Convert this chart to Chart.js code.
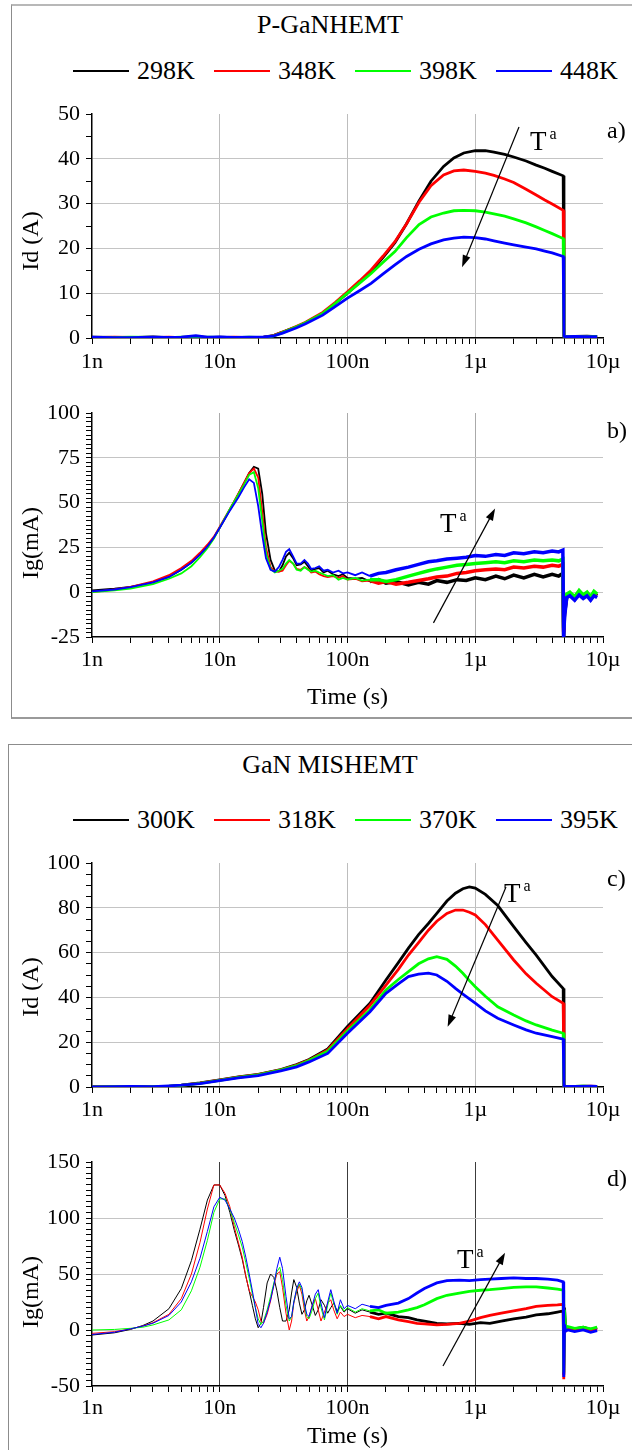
<!DOCTYPE html>
<html>
<head>
<meta charset="utf-8">
<script src="https://cdn.jsdelivr.net/npm/chart.js@4.4.1/dist/chart.umd.min.js"></script>
<style>
  body { margin: 0; width: 632px; height: 1450px; overflow: hidden; background: #fff; position: relative;
         font-family: "Liberation Serif", "Times New Roman", serif; color: #000; }
  .box { position: absolute; box-sizing: border-box; }
  .title { position: absolute; width: 300px; text-align: center; font-size: 26px; line-height: 30px; }
  .legend-item { position: absolute; font-size: 26px; line-height: 30px; white-space: nowrap; height: 30px; }
  .legend-line { position: absolute; left: 0; width: 56px; }
  .legend-text { position: absolute; left: 64px; top: 0; }
  canvas { position: absolute; left: 0; }
</style>
</head>
<body>
<div class="box" style="left:11px; top:4px; width:700px; height:715px; border-top:2px solid #b8b8b8; border-left:1.5px solid #8c8c8c; border-bottom:2px solid #9a9a9a;"></div>
<div class="box" style="left:8px; top:744px; width:700px; height:800px; border-top:1.5px solid #8c8c8c; border-left:1.5px solid #8c8c8c;"></div>

<script>
const FONT = '"Liberation Serif", "Times New Roman", serif';

// ---- series names / colours ----
const tempsTop = ['298K', '348K', '398K', '448K'];
const tempsBottom = ['300K', '318K', '370K', '395K'];
const seriesColors = ['#000000', '#ff0000', '#00ff00', '#0000ff'];

// ---- x axis (time, s) ----
const xDecades = [1e-9, 1e-8, 1e-7, 1e-6, 1e-5];
const xDecadeLabels = ['1n', '10n', '100n', '1µ', '10µ'];

// ---- a) P-GaN HEMT drain current Id (A) ----
const timeA = [1e-9, 1.5e-9, 2e-9, 3e-9, 4e-9, 5e-9, 6.5e-9, 8e-9, 1e-8, 1.3e-8,
  1.7e-8, 2.2e-8, 2.6e-8, 3.1e-8, 4e-8, 4.7e-8, 6.4e-8, 8e-8, 1e-7, 1.25e-7,
  1.53e-7, 1.9e-7, 2.35e-7, 2.9e-7, 3.63e-7, 4.5e-7, 5.65e-7, 6.8e-7, 8.13e-7, 1e-6,
  1.2e-6, 1.4e-6, 1.7e-6, 2e-6, 2.5e-6, 3e-6, 3.5e-6, 4e-6, 4.88e-6, 4.95e-6,
  5.05e-6, 6e-6, 7.5e-6, 9e-6];
const id298 = [0.2, 0.15, 0.1, 0.25, 0.1, 0.15, 0.3, 0.1, 0.2, 0.1,
  0.15, 0.2, 0.5, 1.3, 2.5, 3.4, 5.5, 7.7, 10.0, 12.5,
  14.9, 18.0, 21.3, 25.5, 30.6, 35.0, 38.3, 40.2, 41.3, 41.8,
  41.8, 41.5, 41.0, 40.4, 39.5, 38.6, 37.9, 37.2, 36.2, 0.5,
  0.3, 0.35, 0.4, 0.3];
const id348 = [0.1, 0.2, 0.15, 0.1, 0.2, 0.1, 0.25, 0.15, 0.1, 0.2,
  0.1, 0.15, 0.5, 1.3, 2.6, 3.5, 5.7, 7.9, 10.3, 12.8,
  15.2, 18.3, 21.5, 25.5, 30.3, 34.0, 36.4, 37.3, 37.5, 37.2,
  36.8, 36.3, 35.5, 34.7, 33.2, 31.9, 30.8, 29.9, 28.5, 0.4,
  0.3, 0.3, 0.35, 0.3];
const id398 = [0.1, 0.1, 0.2, 0.15, 0.1, 0.2, 0.1, 0.2, 0.15, 0.1,
  0.2, 0.1, 0.4, 1.2, 2.5, 3.4, 5.5, 7.7, 10.0, 12.3,
  14.4, 16.9, 19.3, 22.4, 25.3, 27.0, 27.9, 28.4, 28.5, 28.4,
  28.1, 27.7, 27.2, 26.6, 25.7, 24.8, 24.0, 23.3, 22.2, 0.4,
  0.3, 0.3, 0.3, 0.35];
const id448 = [0.2, 0.1, 0.1, 0.2, 0.15, 0.2, 0.5, 0.2, 0.25, 0.15,
  0.2, 0.25, 0.4, 1.1, 2.3, 3.2, 5.1, 7.0, 8.9, 10.6,
  12.2, 14.3, 16.3, 18.2, 19.8, 21.0, 21.9, 22.3, 22.5, 22.4,
  22.1, 21.7, 21.2, 20.8, 20.3, 19.9, 19.4, 19.0, 18.2, 0.4,
  0.3, 0.35, 0.3, 0.3];

// ---- b) P-GaN HEMT gate current Ig (mA) ----
const timeB = [1e-9, 1.5e-9, 2e-9, 3e-9, 4e-9, 5e-9, 6e-9, 7e-9, 8e-9, 9e-9,
  1e-8, 1.2e-8, 1.4e-8, 1.55e-8, 1.7e-8, 1.85e-8, 2e-8, 2.15e-8, 2.3e-8, 2.5e-8,
  2.7e-8, 2.9e-8, 3.1e-8, 3.3e-8, 3.5e-8, 3.75e-8, 4e-8, 4.3e-8, 4.6e-8, 4.9e-8,
  5.2e-8, 5.6e-8, 6e-8, 6.5e-8, 7e-8, 7.7e-8, 8.5e-8, 9.2e-8, 1e-7, 1.15e-7,
  1.3e-7, 1.5e-7, 1.75e-7, 2e-7, 2.4e-7, 3e-7, 3.6e-7, 4.3e-7, 5e-7, 6e-7,
  7.2e-7, 8.5e-7, 1e-6, 1.2e-6, 1.45e-6, 1.7e-6, 2e-6, 2.4e-6, 2.9e-6, 3.4e-6,
  4e-6, 4.5e-6, 4.85e-6, 4.92e-6, 5e-6, 5.2e-6, 5.5e-6, 6e-6, 6.5e-6, 7e-6,
  7.5e-6, 8e-6, 8.5e-6, 9e-6];
const ig298 = [1.0, 2.0, 3.0, 5.5, 8.5, 12.5, 16.5, 21, 25.5, 30.5,
  36, 46, 55, 61, 66.5, 70, 69, 55, 33, 18,
  12, 11.5, 15, 20, 22, 19, 15, 15.5, 17, 14.5,
  12, 13, 13.5, 11, 12, 10, 9, 10, 8, 7.5,
  8, 6, 7, 5, 6, 4, 5.5, 4.5, 6.5, 5.5,
  7, 6.5, 8, 7, 9, 7.5, 9.5, 8, 10, 8.5,
  10, 9, 10.5, -25, -12, -3, -1, -4, 0, -3,
  -1, -4, -1, -2];
const ig348 = [0.0, 1.5, 3.0, 6.0, 9.5, 13.5, 17.5, 22, 26.5, 31,
  36.5, 46.5, 55, 61, 66.5, 69, 64, 45, 25, 14,
  11.5, 11.5, 12, 15, 17.5, 16, 13, 12.5, 14, 13,
  11, 11.5, 10, 9, 8.5, 9, 8, 9, 7, 7.5,
  6, 6.5, 5, 6, 4.5, 5.5, 6.5, 7.5, 8.5, 9,
  10.5, 11, 12, 12.5, 13, 12.5, 14, 13.5, 14.5, 14,
  15, 14.5, 15.5, -22, -10, -2, -1, -3.5, 0.5, -2,
  -0.5, -3.5, -1.5, -1.5];
const ig398 = [0.0, 1.0, 2.0, 4.5, 7.5, 10.5, 14.5, 19.5, 24.5, 30,
  36, 46.5, 54.5, 60, 65.5, 67, 58, 40, 22, 13,
  11, 12, 13, 16, 18, 16, 12.5, 12, 14, 12.5,
  11.5, 12, 11, 10, 9, 9.5, 7, 8, 7, 8,
  6.5, 7, 7, 6, 7, 9, 10.5, 12, 13, 14,
  15, 15.5, 16, 16.5, 17, 16.5, 17.5, 17, 18, 17.5,
  18, 17.5, 18.5, -20, -8, -1, 0, -2.5, 1, -1.5,
  0, -2.5, 0.5, -1];
const ig448 = [0.5, 1.5, 2.8, 5.5, 8.5, 12.5, 16.5, 21, 25.5, 30.5,
  36, 45.5, 53, 58.5, 63, 61, 48, 32, 19, 12.5,
  11.5, 14, 18, 22.5, 24, 20, 16, 16, 18, 16,
  13, 13.5, 14.5, 12, 12.5, 11, 12, 10.5, 11, 9.5,
  11, 9, 10.5, 11, 12.5, 14, 15.5, 17, 17.5, 18.5,
  19, 19.5, 20.5, 20, 21, 20.5, 22, 21.5, 22.5, 22,
  23, 22.5, 23.5, -25, -14, -3, -2, -4.5, -1.5, -3.5,
  -2, -4.5, -2, -3];

// ---- c) GaN MIS-HEMT drain current Id (A) ----
const timeC = [1e-9, 1.5e-9, 2e-9, 3e-9, 4e-9, 5e-9, 7e-9, 1e-8, 1.4e-8, 2e-8,
  3e-8, 4e-8, 5e-8, 7e-8, 1e-7, 1.5e-7, 2e-7, 2.5e-7, 3e-7, 3.6e-7,
  4.3e-7, 5e-7, 6e-7, 7e-7, 8e-7, 9e-7, 1e-6, 1.2e-6, 1.5e-6, 2e-6,
  2.5e-6, 3e-6, 4e-6, 4.88e-6, 4.95e-6, 5.1e-6, 6e-6, 7e-6, 8e-6, 9e-6];
const id300 = [0.2, 0.1, 0.2, 0.1, 0.3, 0.8, 1.8, 3.2, 4.5, 5.6,
  7.8, 10, 12.3, 17, 27, 37.4, 47.8, 55.5, 62, 68,
  73, 77.5, 83, 86.5, 88.5, 89.3, 88.8, 86, 81, 71.6,
  64.5, 58.9, 49.3, 44, 0.5, 0.4, 0.3, 0.4, 0.3, 0.3];
const id318 = [0.2, 0.3, 0.1, 0.2, 0.3, 0.7, 1.7, 3.1, 4.4, 5.5,
  7.6, 9.8, 12, 16.5, 26, 36.5, 45.5, 52.5, 58.9, 64.5,
  70, 74, 77.5, 79, 79, 78, 76.8, 72.5, 65.6, 56.7,
  50.5, 46.3, 40.3, 37.4, 0.5, 0.4, 0.3, 0.3, 0.4, 0.3];
const id370 = [0.1, 0.2, 0.1, 0.2, 0.4, 0.7, 1.6, 3.0, 4.3, 5.4,
  7.5, 9.5, 11.8, 16, 25, 34.5, 43.3, 48, 51.5, 55,
  57.2, 58.2, 57, 54, 50.8, 47.5, 44.8, 40.5, 35.8, 32.1,
  29.5, 27.7, 25.4, 24, 0.4, 0.3, 0.3, 0.4, 0.3, 0.3];
const id395 = [0.1, 0.2, 0.3, 0.2, 0.5, 0.8, 1.5, 2.8, 4.1, 5.1,
  7.2, 9, 11.2, 15, 24, 33.6, 41.8, 46, 49.3, 50.4,
  50.8, 50, 47.2, 44, 41.5, 39.3, 37.4, 34, 30.7, 27.7,
  25.5, 24, 22.5, 21.4, 0.5, 0.4, 0.3, 0.3, 0.4, 0.3];

// ---- d) GaN MIS-HEMT gate current Ig (mA) ----
const timeD = [1e-9, 1.5e-9, 2e-9, 2.5e-9, 3e-9, 4e-9, 5e-9, 6e-9, 7e-9, 8e-9,
  9e-9, 1e-8, 1.1e-8, 1.2e-8, 1.3e-8, 1.4e-8, 1.5e-8, 1.6e-8, 1.7e-8, 1.8e-8,
  1.9e-8, 2e-8, 2.1e-8, 2.2e-8, 2.35e-8, 2.5e-8, 2.65e-8, 2.8e-8, 2.95e-8, 3.1e-8,
  3.3e-8, 3.5e-8, 3.65e-8, 3.8e-8, 4e-8, 4.2e-8, 4.4e-8, 4.6e-8, 4.8e-8, 5e-8,
  5.3e-8, 5.6e-8, 5.9e-8, 6.2e-8, 6.6e-8, 7e-8, 7.4e-8, 7.8e-8, 8.3e-8, 8.8e-8,
  9.4e-8, 1e-7, 1.15e-7, 1.3e-7, 1.5e-7, 1.75e-7, 2e-7, 2.5e-7, 3e-7, 3.5e-7,
  4e-7, 5e-7, 6e-7, 7.5e-7, 9e-7, 1.1e-6, 1.3e-6, 1.6e-6, 2e-6, 2.5e-6,
  3e-6, 3.7e-6, 4.4e-6, 4.88e-6, 4.93e-6, 5e-6, 5.1e-6, 5.3e-6, 6e-6, 7e-6,
  8e-6, 9e-6];
const ig300 = [-4.5, -2.5, 0.5, 4, 8, 19, 37, 62, 90, 116,
  129.5, 129.5, 120, 105, 89, 76, 63, 48, 35, 22,
  10, 2, 6, 20, 42, 50, 47, 35, 20, 8,
  8, 18, 33, 45, 38, 24, 14, 18, 26, 31,
  22, 13, 18, 27, 22, 15, 20, 24, 17, 21,
  16, 19, 15, 18, 16, 14, 15, 12, 11, 9,
  8, 6, 5.5, 6, 5, 6.5, 6, 8, 10, 11.5,
  13.5, 14.5, 16, 17, -40, 20, 0, 2, 1, 2.5,
  0.5, 2];
const ig318 = [-3, -1.5, 1, 3.5, 6.5, 14, 28, 50, 78, 108,
  129.5, 129.5, 122, 110, 92, 78, 65, 48, 35, 30,
  25, 18, 8, 6, 14, 26, 40, 50, 52, 38,
  15, 0, 8, 24, 34, 40, 32, 18, 8, 12,
  22, 28, 18, 8, 16, 24, 27, 18, 10, 16,
  12, 14, 11, 13, 12, 10, 12, 9, 7.5, 6,
  5.5, 4.5, 5, 6, 8, 11, 13, 15, 17, 19,
  21, 22, 22.5, 23, -44, 12, -1, 1, 0, 2,
  -0.5, 1];
const ig370 = [0, 0.5, 1.5, 2.5, 4.5, 9, 18, 35, 56, 80,
  105, 117, 117, 108, 96, 85, 74, 60, 46, 32,
  20, 10, 5, 8, 18, 30, 42, 52, 56, 45,
  22, 8, 12, 25, 36, 41, 36, 22, 12, 10,
  18, 28, 33, 20, 9, 22, 33, 24, 14, 22,
  17, 20, 16, 19, 17, 18, 15, 16, 18, 20,
  22.5, 28, 31, 33, 34.5, 35.5, 36, 37, 38, 38.5,
  38.5, 37.5, 36.5, 35.5, -38, 18, 1, 3, 1.5, 2.5,
  1, 2.5];
const ig395 = [-4, -2, 1, 3.5, 6, 13, 25, 43, 64, 88,
  110, 118.5, 116, 108, 100, 90, 79, 65, 50, 35,
  20, 5, 2, 6, 16, 27, 40, 55, 65, 55,
  30, 10, 12, 25, 37, 43, 38, 24, 14, 12,
  22, 32, 36, 24, 11, 25, 36, 26, 15, 27,
  19, 22, 19, 23, 21, 20, 22, 24, 28, 33,
  37, 42, 44, 44.5, 44, 45, 45.5, 46, 46.5, 46,
  46, 45.5, 44.5, 43, -42, 5, -1, 0, -1.5, 0,
  -2, -0.5];

// ---- annotations (data coordinates) ----
const notesA = { tag: 'a)', tagAt: [1.075e-5, 46], tAt: [2.68e-6, 42], arrow: [[2.2e-6, 47.1], [7.88e-7, 15.8]] };
const notesB = { tag: 'b)', tagAt: [1.075e-5, 89.3], tAt: [5.3e-7, 33.5], arrow: [[4.71e-7, -17.1], [1.43e-6, 46.7]] };
const notesC = { tag: 'c)', tagAt: [1.075e-5, 92.4], tAt: [1.68e-6, 82.6], arrow: [[1.74e-6, 89.3], [6.08e-7, 26.9]] };
const notesD = { tag: 'd)', tagAt: [1.075e-5, 133.9], tAt: [7.2e-7, 55.4], arrow: [[5.59e-7, -32.1], [1.71e-6, 69.0]] };

Chart.defaults.font.family = FONT;
Chart.defaults.color = '#000';

// all x ticks: 1..9 per decade, labels only on decades
const xTickVals = [];
for (let d = 0; d < 4; d++) {
  for (let m = 1; m <= 9; m++) xTickVals.push(Number((m * Math.pow(10, d - 9)).toPrecision(3)));
}
xTickVals.push(1e-5);

function decadeIndex(v) {
  return xDecades.findIndex(dv => Math.abs(v / dv - 1) < 1e-6);
}

const notesPlugin = {
  id: 'notes',
  afterDatasetsDraw(chart, args, o) {
    if (!o || !o.tag) return;
    const { ctx } = chart;
    const xs = chart.scales.x, ys = chart.scales.y;
    const px = p => [xs.getPixelForValue(p[0]), ys.getPixelForValue(p[1])];
    ctx.save();
    ctx.fillStyle = '#000';
    ctx.strokeStyle = '#000';
    ctx.textAlign = 'left';

    ctx.font = '24px ' + FONT;
    ctx.textBaseline = 'middle';
    const [tx, ty] = px(o.tagAt);
    ctx.fillText(o.tag, tx, ty);

    ctx.textBaseline = 'alphabetic';
    ctx.font = '27px ' + FONT;
    const [Tx, Ty] = px(o.tAt);
    ctx.fillText('T', Tx, Ty);
    const w = ctx.measureText('T').width;
    ctx.font = '16px ' + FONT;
    ctx.fillText('a', Tx + w + 3, Ty - 11);

    // arrow
    const [x0, y0] = px(o.arrow[0]);
    const [x1, y1] = px(o.arrow[1]);
    const ang = Math.atan2(y1 - y0, x1 - x0);
    const L = 12, H = 4;
    ctx.lineWidth = 1.2;
    ctx.beginPath();
    ctx.moveTo(x0, y0);
    ctx.lineTo(x1 - L * 0.7 * Math.cos(ang), y1 - L * 0.7 * Math.sin(ang));
    ctx.stroke();
    ctx.beginPath();
    ctx.moveTo(x1, y1);
    ctx.lineTo(x1 - L * Math.cos(ang) + H * Math.sin(ang), y1 - L * Math.sin(ang) - H * Math.cos(ang));
    ctx.lineTo(x1 - L * Math.cos(ang) - H * Math.sin(ang), y1 - L * Math.sin(ang) + H * Math.cos(ang));
    ctx.closePath();
    ctx.fill();
    ctx.restore();
  }
};

function xAxis(height, labelPad, vGrid, title, titlePad) {
  return {
    type: 'logarithmic',
    min: 1e-9,
    max: 1e-5,
    afterBuildTicks: s => { s.ticks = xTickVals.map(v => ({ value: v })); },
    afterFit: s => { s.height = height; s.paddingLeft = 0; s.paddingRight = 0; },
    ticks: {
      autoSkip: false, maxRotation: 0, minRotation: 0, padding: labelPad,
      font: { size: 22 },
      callback: v => { const i = decadeIndex(v); return i >= 0 ? xDecadeLabels[i] : ''; }
    },
    grid: {
      color: c => {
        const i = c.tick ? decadeIndex(c.tick.value) : -1;
        return (i > 0 && i < xDecades.length - 1) ? vGrid : 'rgba(0,0,0,0)';
      },
      tickColor: '#000',
      tickLength: 6,
      lineWidth: 1
    },
    border: { color: '#000', width: 1.5 },
    title: title
      ? { display: true, text: title, font: { size: 24 }, padding: { top: 0, bottom: titlePad } }
      : { display: false }
  };
}

function yAxis(min, max, step, major, title) {
  return {
    type: 'linear',
    min: min,
    max: max,
    afterBuildTicks: s => {
      const t = [];
      for (let v = min; v <= max + 1e-6; v += step) t.push({ value: Math.round(v * 100) / 100 });
      s.ticks = t;
    },
    afterFit: s => { s.width = 92; s.paddingTop = 0; s.paddingBottom = 0; },
    ticks: {
      autoSkip: false, padding: 6, font: { size: 22 },
      callback: v => (Math.abs(v % major) < 1e-6 ? String(v) : '')
    },
    grid: {
      color: c => {
        const v = c.tick ? c.tick.value : min;
        return (Math.abs(v % major) < 1e-6 && v > min && v < max) ? '#c4c4c4' : 'rgba(0,0,0,0)';
      },
      tickColor: '#000',
      tickLength: 6,
      lineWidth: 1
    },
    border: { color: '#000', width: 1.5 },
    title: { display: true, text: title, font: { size: 24 }, padding: { top: 17.6, bottom: 0 } }
  };
}

function makeDatasets(times, seriesList, names, width, lateWidth, lateFrom) {
  return seriesList.map((vals, k) => ({
    label: names[k],
    data: times.map((t, j) => ({ x: t, y: vals[j] })),
    borderColor: seriesColors[k],
    borderWidth: width,
    pointRadius: 0,
    tension: 0,
    fill: false,
    order: seriesList.length - k,
    segment: lateWidth ? { borderWidth: c => (c.p0.parsed.x >= lateFrom ? lateWidth : width) } : undefined
  }));
}

function makeChart(top, height, padTop, datasets, xOpts, yOpts, notes) {
  const cv = document.createElement('canvas');
  cv.width = 632;
  cv.height = height;
  cv.style.top = top + 'px';
  cv.style.width = '632px';
  cv.style.height = height + 'px';
  document.body.appendChild(cv);
  return new Chart(cv.getContext('2d'), {
    type: 'line',
    data: { datasets: datasets },
    options: {
      responsive: false,
      animation: false,
      events: [],
      layout: { padding: { top: padTop, right: 29, bottom: 0, left: 0 } },
      plugins: { legend: { display: false }, tooltip: { enabled: false }, notes: notes },
      scales: { x: xOpts, y: yOpts }
    },
    plugins: [notesPlugin]
  });
}

function addHeader(title, names, titleTop, legendTop, lineH) {
  const t = document.createElement('div');
  t.className = 'title';
  t.style.left = '180px';
  t.style.top = titleTop + 'px';
  t.textContent = title;
  document.body.appendChild(t);
  names.forEach((name, i) => {
    const item = document.createElement('div');
    item.className = 'legend-item';
    item.style.left = (73 + i * 141) + 'px';
    item.style.top = legendTop + 'px';
    const line = document.createElement('div');
    line.className = 'legend-line';
    line.style.height = lineH + 'px';
    line.style.top = (15 - lineH / 2) + 'px';
    line.style.background = seriesColors[i];
    const txt = document.createElement('span');
    txt.className = 'legend-text';
    txt.textContent = name;
    item.appendChild(line);
    item.appendChild(txt);
    document.body.appendChild(item);
  });
}

addHeader('P-GaNHEMT', tempsTop, 10, 56, 1.5);
addHeader('GaN MISHEMT', tempsBottom, 750, 805, 2);

makeChart(100, 280, 14,
  makeDatasets(timeA, [id298, id348, id398, id448], tempsTop, 2.8),
  xAxis(42, 5.5, '#bdbdbd'),
  yAxis(0, 50, 5, 10, 'Id (A)     '),
  notesA);

makeChart(380, 338, 33,
  makeDatasets(timeB, [ig298, ig348, ig398, ig448], tempsTop, 1.8, 3.5, 1.5e-7),
  xAxis(81, 3.8, '#aaaaaa', 'Time (s)', 5.6),
  yAxis(-25, 100, 2.5, 25, 'Ig(mA)      '),
  notesB);

makeChart(840, 290, 23,
  makeDatasets(timeC, [id300, id318, id370, id395], tempsBottom, 2.8),
  xAxis(43, 3.8, '#bdbdbd'),
  yAxis(0, 100, 5, 20, 'Id (A)    '),
  notesC);

makeChart(1130, 330, 32,
  makeDatasets(timeD, [ig300, ig318, ig370, ig395], tempsBottom, 1, 2.8, 1.5e-7),
  xAxis(74, 2.8, '#3c3c3c', 'Time (s)', 8.6),
  yAxis(-50, 150, 5, 50, 'Ig(mA)      '),
  notesD);
</script>
</body>
</html>
